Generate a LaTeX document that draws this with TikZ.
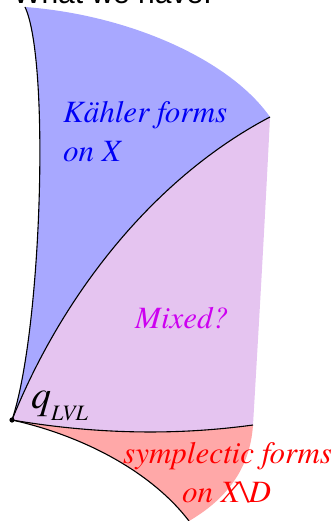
\documentclass[tikz,border=0pt]{standalone}
\usepackage{fontspec}
\setmainfont{Liberation Serif}
\newfontfamily\labfont{TeX Gyre Termes}[UprightFont=*-Italic]
\newfontfamily\headfont{Liberation Sans}
\usepackage{tikz}
\definecolor{kahlercol}{RGB}{168,168,255}
\definecolor{mixedcol}{RGB}{229,196,240}
\definecolor{sympcol}{RGB}{255,168,168}
\definecolor{kahlertext}{RGB}{0,0,245}
\definecolor{mixedtext}{RGB}{205,0,240}
\definecolor{symptext}{RGB}{255,0,0}
\tikzset{
  bound/.style={draw=black,line width=1.1pt},
  lab/.style={font=\labfont\fontsize{31}{36}\selectfont,inner sep=0pt,anchor=base west},
  head/.style={font=\headfont\fontsize{30}{36}\selectfont,inner sep=0pt,anchor=base west},
}
\begin{document}
\begin{tikzpicture}[x=1pt,y=-1pt]
  \useasboundingbox (0,0) rectangle (336,521);
  \coordinate (top) at (25,7);
  \coordinate (corner) at (270,117);
  \coordinate (mixbot) at (253,425);
  \coordinate (tip) at (189,521);
  \coordinate (q) at (12,420);
  % regions
  \fill[kahlercol] (top) .. controls (130,15) and (230,60) .. (corner)
    .. controls (150,180) and (60,300) .. (q)
    .. controls (42,330) and (50,60) .. (top) -- cycle;
  \fill[mixedcol] (corner) .. controls (265,220) and (258,340) .. (mixbot)
    .. controls (180,435) and (100,435) .. (q)
    .. controls (60,300) and (150,180) .. (corner) -- cycle;
  \fill[sympcol] (q) .. controls (100,435) and (180,435) .. (mixbot)
    .. controls (250,470) and (225,500) .. (tip)
    .. controls (150,470) and (80,435) .. (q) -- cycle;
  % boundaries
  \draw[bound] (top) .. controls (50,60) and (42,330) .. (q);
  \draw[bound] (corner) .. controls (150,180) and (60,300) .. (q);
  \draw[bound] (q) .. controls (100,435) and (180,435) .. (mixbot);
  \draw[bound] (q) .. controls (80,435) and (150,470) .. (tip);
  \fill[black] (q) circle (2.6);
  % labels
  \node[head] (title) at (13,4) {What we have:};
  \node[lab,text=kahlertext] (kahler) at (63,123) {Kähler forms};
  \node[lab,text=kahlertext] (kahleron) at (63,162) {on X};
  \node[lab,text=mixedtext] (mixed) at (135,328) {Mixed?};
  \node[lab,text=symptext] (symp) at (123,463) {symplectic forms};
  \node[lab,text=symptext] (sympon) at (182,502) {on X\textbackslash D};
  \node[inner sep=0pt,anchor=base west] (qlvl) at (31,408)
    {\labfont\fontsize{40}{44}\selectfont q\raisebox{-12pt}{\fontsize{22}{24}\selectfont LVL}};
\end{tikzpicture}
\end{document}
